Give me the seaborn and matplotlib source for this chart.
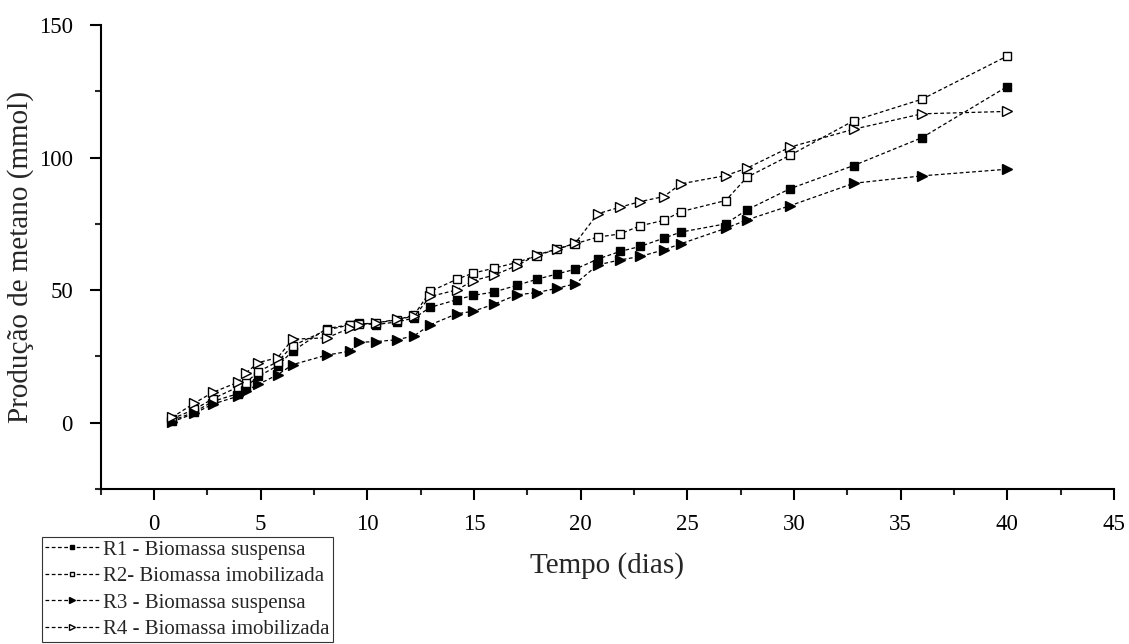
import numpy as np
import pandas as pd
import seaborn as sns
import matplotlib.pyplot as plt
from matplotlib.ticker import MultipleLocator

# Measurement days (tempo, dias)
dias = [0.85, 1.9, 2.75, 3.95, 4.3, 4.9, 5.8, 6.5, 8.1, 9.2, 9.6, 10.4, 11.4,
        12.2, 12.95, 14.2, 14.95, 15.95, 17.0, 17.95, 18.9, 19.75, 20.8,
        21.85, 22.8, 23.9, 24.7, 26.8, 27.8, 29.8, 32.8, 36.0, 40.0]

# Methane production (mmol) per reactor
r1 = [0.8, 4.0, 8.0, 11.0, 13.5, 17.5, 21.5, 27.0, 35.5, 37.0, 37.5, 37.0, 38.0,
      39.5, 43.5, 46.4, 48.0, 49.3, 51.8, 54.1, 56.1, 57.9, 61.7,
      64.6, 66.5, 69.6, 71.9, 75.0, 80.3, 88.2, 97.0, 107.5, 126.8]
r2 = [1.5, 5.0, 9.0, 13.5, 15.0, 19.3, 23.0, 29.0, 35.0, 36.9, 37.2, 37.6, 38.8,
      40.7, 49.5, 54.1, 56.4, 58.3, 60.4, 63.0, 65.5, 67.5, 70.0,
      71.2, 74.3, 76.3, 79.6, 83.8, 92.6, 100.8, 113.9, 122.0, 138.3]
r3 = [0.3, 3.5, 7.0, 10.0, 12.0, 14.5, 18.1, 21.9, 25.5, 27.0, 30.3, 30.6, 31.3,
      32.8, 36.9, 41.1, 42.0, 44.7, 48.2, 49.1, 50.7, 52.4, 59.5,
      61.4, 62.7, 65.2, 67.5, 73.3, 76.5, 81.8, 90.3, 93.1, 95.6]
r4 = [2.0, 7.4, 11.4, 15.3, 18.7, 22.7, 24.5, 31.5, 32.0, 35.7, 36.9, 37.6, 39.0,
      40.1, 47.6, 50.1, 53.5, 55.7, 59.2, 63.3, 65.5, 67.7, 78.8,
      81.3, 83.4, 85.3, 90.1, 93.2, 96.0, 103.9, 110.7, 116.5, 117.4]

labels = ["R1 - Biomassa suspensa", "R2- Biomassa imobilizada",
          "R3 - Biomassa suspensa", "R4 - Biomassa imobilizada"]

sns.set_style("ticks")
plt.rcParams["font.family"] = ["Liberation Serif", "DejaVu Serif"]

fig = plt.figure(figsize=(11.29, 6.44), dpi=100)
ax = fig.add_axes([0.0891, 0.2407, 0.8976, 0.7205])

# marker, facecolor, size for each series
estilos = [("s", "black", 5.5), ("s", "white", 5.5), (">", "black", 7), (">", "white", 7)]

for valores, lab, (mk, fc, ms) in zip([r1, r2, r3, r4], labels, estilos):
    df = pd.DataFrame({"dias": dias, "metano": valores})
    sns.lineplot(data=df, x="dias", y="metano", ax=ax, sort=False, label=lab,
                 color="black", linestyle=(0, (3, 2)), linewidth=0.9,
                 marker=mk, markersize=ms, markerfacecolor=fc,
                 markeredgecolor="black", markeredgewidth=1.0)

ax.set_xlim(-2.5, 45)
ax.set_ylim(-25, 150)
ax.xaxis.set_major_locator(MultipleLocator(5))
ax.xaxis.set_minor_locator(MultipleLocator(2.5))
ax.yaxis.set_major_locator(MultipleLocator(50))
ax.yaxis.set_minor_locator(MultipleLocator(25))
ax.tick_params(which="major", length=8, width=1.5, labelsize=16.5, colors="black")
ax.tick_params(axis="y", which="major", pad=12)
ax.tick_params(axis="x", which="major", pad=10)
ax.tick_params(which="minor", length=4.5, width=1.5)

for side in ["top", "right"]:
    ax.spines[side].set_visible(False)
for side in ["left", "bottom"]:
    ax.spines[side].set_linewidth(1.5)
    ax.spines[side].set_color("black")

ax.set_xlabel("Tempo (dias)", fontsize=21, labelpad=12)
ax.set_ylabel("Produção de metano (mmol)", fontsize=21)
ax.yaxis.set_label_coords(-0.066, 0.5)

handles, labs = ax.get_legend_handles_labels()
ax.get_legend().remove()
leg = fig.legend(handles, labs, loc="upper left", bbox_to_anchor=(42 / 1129, 1 - 537 / 644),
                 fontsize=15, frameon=True, fancybox=False, edgecolor="black",
                 markerscale=0.65, handlelength=2.6, handletextpad=0.2,
                 borderpad=0.15, labelspacing=0.33, borderaxespad=0)
leg.get_frame().set_linewidth(0.8)

fig.savefig("out.png", dpi=100)
